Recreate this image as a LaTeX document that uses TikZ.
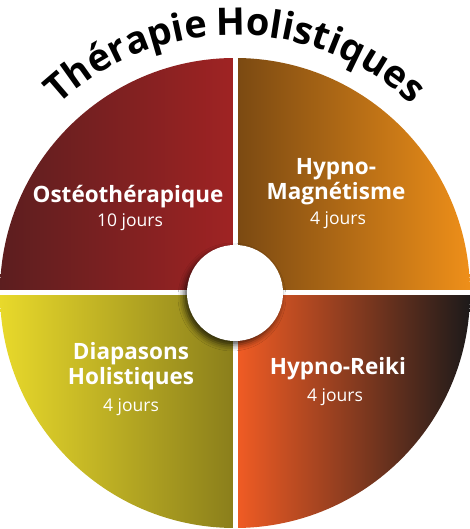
\documentclass[tikz,border=0pt]{standalone}
\usepackage{fontspec}
\setmainfont{Open Sans}
\usetikzlibrary{decorations.text,shadows.blur}

% couleurs des quatre quarts (gauche -> droite)
\definecolor{osteoA}{HTML}{5C1E1F}
\definecolor{osteoB}{HTML}{A02323}
\definecolor{magnA}{HTML}{7A4912}
\definecolor{magnB}{HTML}{EE8F19}
\definecolor{diapA}{HTML}{E8D92B}
\definecolor{diapB}{HTML}{8A7E1B}
\definecolor{reikiA}{HTML}{F25C24}
\definecolor{reikiB}{HTML}{1D1A1A}

\tikzset{
  nom/.style={text=white, align=center, anchor=base, font=\bfseries\fontsize{22.5}{25}\selectfont},
  duree/.style={text=white, anchor=base, font=\fontsize{17.5}{20}\selectfont},
}

\begin{document}
\begin{tikzpicture}[x=1pt,y=1pt]
  \useasboundingbox (0,0) rectangle (470,529);
  \coordinate (c) at (235,236);

  % les quatre quarts en dégradé horizontal
  \shade[left color=osteoA, right color=osteoB] (c) -- ++(90:235) arc[start angle=90, end angle=180, radius=235] -- cycle;
  \shade[left color=magnA, right color=magnB] (c) -- ++(0:235) arc[start angle=0, end angle=90, radius=235] -- cycle;
  \shade[left color=diapA, right color=diapB] (c) -- ++(180:235) arc[start angle=180, end angle=270, radius=235] -- cycle;
  \shade[left color=reikiA, right color=reikiB] (c) -- ++(270:235) arc[start angle=270, end angle=360, radius=235] -- cycle;

  % séparations blanches
  \draw[white, line width=5pt] (c) ++(0,-240) coordinate (bas) -- ++(0,480) coordinate (haut);
  \draw[white, line width=5pt] (c) ++(-240,0) coordinate (gauche) -- ++(480,0) coordinate (droite);

  % disque central avec ombre
  \fill[white, blur shadow={shadow xshift=-3pt, shadow yshift=-4pt, shadow blur radius=6pt, shadow opacity=70}] (c) circle (48);

  % titre en arc (même centre que le disque)
  \path[decorate, decoration={text along path, text align=center,
      text={|\bfseries\fontsize{38}{38}\selectfont\addfontfeatures{LetterSpace=-5}|Thérapie Holistiques}}]
    (c) ++(150:258) arc[start angle=150, end angle=30, radius=258];

  % textes des quarts
  \node[nom] (osteo) at (128,326) {Ostéothérapique};
  \node[duree] (osteoJ) at (130,302) {10 jours};

  \node[nom] (magn) at (336,329) {Hypno-\\Magnétisme};
  \node[duree] (magnJ) at (338,304) {4 jours};

  \node[nom] (diap) at (131,144) {Diapasons\\Holistiques};
  \node[duree] (diapJ) at (131,117) {4 jours};

  \node[nom] (reiki) at (338,154) {Hypno-Reiki};
  \node[duree] (reikiJ) at (335,127) {4 jours};
\end{tikzpicture}
\end{document}
